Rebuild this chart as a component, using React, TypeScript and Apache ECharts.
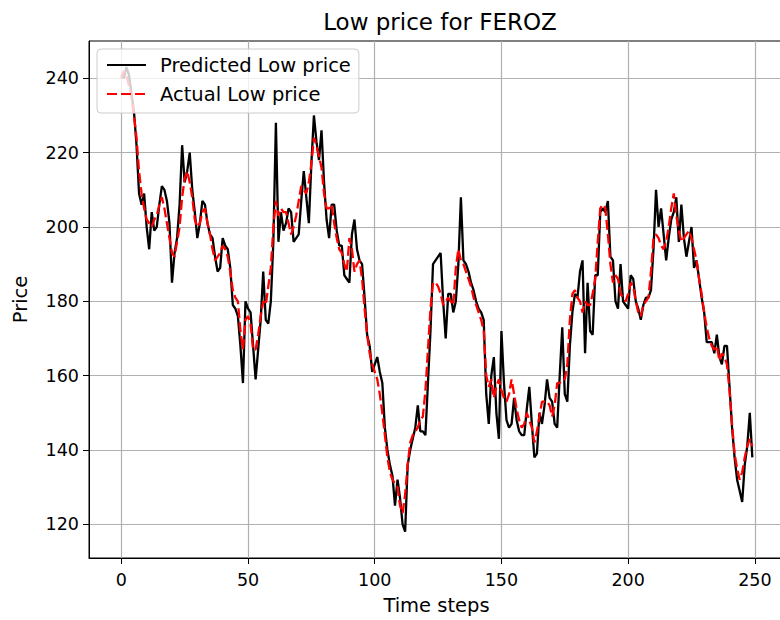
import React, { useEffect, useRef } from "react";
import * as echarts from "echarts";

const titleText = "Low price for FEROZ";
const xAxisName = "Time steps";
const yAxisName = "Price";
const seriesNames = ["Predicted Low price", "Actual Low price"];
const xTicks = [0, 50, 100, 150, 200, 250];
const yTicks = [120, 140, 160, 180, 200, 220, 240];

const predicted = [
  241, 240, 243, 241, 236, 231, 222, 209, 206, 209,
  200, 194, 204, 199, 200, 206, 211, 210, 207, 201,
  185, 193, 197, 206, 222, 212, 215, 220, 210, 204,
  197, 201, 207, 206, 201, 198, 197, 192, 188, 189,
  197, 195, 194, 189, 179, 178, 176, 168, 158, 180,
  178, 177, 168, 159, 167, 175, 188, 175, 174, 180,
  196, 228, 196, 204, 199, 201, 205, 204, 196, 197,
  198, 207, 215, 208, 201, 217, 230, 223, 218, 226,
  212, 202, 197, 206, 206, 199, 195, 195, 187, 186,
  185, 198, 202, 194, 191, 190, 181, 171, 168, 161,
  163, 165, 161, 158, 146, 140, 136, 133, 125, 132,
  127, 120, 118, 136, 140, 143, 146, 152, 145, 145,
  144, 158, 172, 190, 191, 192, 193, 180, 170, 182,
  182, 177, 180, 190, 208, 191, 190, 188, 185, 183,
  180, 178, 177, 175, 155, 147, 160, 165, 150, 143,
  172, 158, 148, 146, 147, 154, 148, 145, 144, 144,
  151, 157, 147, 138, 139, 150, 147, 152, 159, 154,
  153, 147, 146, 160, 173, 155, 153, 168, 177, 182,
  181, 188, 191, 166, 185, 172, 171, 187, 187, 204,
  205, 204, 207, 192, 191, 180, 178, 190, 180, 179,
  178, 187, 186, 180, 178, 175, 179, 181, 181, 183,
  194, 210, 200, 205, 198, 191, 197, 202, 204, 208,
  196, 206, 197, 192, 196, 200, 189, 191, 186, 181,
  177, 169, 169, 169, 166, 171, 165, 163, 168, 168,
  157, 146, 138, 132, 129, 126, 136, 141, 150, 138,
];

const actual = [
  240, 242, 241, 238, 235, 230, 224, 215, 209, 205,
  202, 201, 200, 202, 203, 206, 208, 205, 201, 197,
  193, 192, 196, 200, 208, 213, 215, 212, 208, 202,
  200, 201, 204, 205, 201, 198, 194, 191, 192, 193,
  195, 194, 192, 188, 183, 181, 180, 172, 167, 175,
  176, 174, 167, 167, 171, 176, 180, 179, 184, 189,
  200, 207, 203, 205, 204, 204, 201, 198, 200, 203,
  207, 211, 210, 209, 212, 217, 224, 222, 219, 216,
  209, 205, 205, 206, 201, 197, 194, 193, 190, 188,
  197, 194, 188, 190, 191, 186, 178, 171, 166, 163,
  161, 159, 155, 150, 144, 138, 134, 132, 131, 130,
  125, 123, 128, 136, 142, 144, 145, 146, 148, 149,
  156, 167, 178, 185, 185, 184, 182, 179, 180, 181,
  180, 179, 189, 194, 191, 190, 188, 186, 184, 181,
  179, 177, 175, 172, 160, 157, 159, 154, 157, 159,
  156, 154, 153, 155, 159, 155, 151, 148, 146, 147,
  150, 148, 146, 142, 145, 149, 153, 153, 153, 152,
  149, 152, 158, 158, 159, 159, 163, 175, 182, 183,
  181, 180, 177, 180, 179, 179, 182, 186, 196, 205,
  206, 205, 198, 190, 185, 187, 186, 182, 181, 180,
  182, 185, 184, 180, 177, 176, 179, 180, 181, 188,
  197, 198, 197, 195, 194, 196, 200, 205, 209, 203,
  199, 196, 197, 198, 199, 197, 194, 191, 186, 182,
  177, 173, 170, 168, 167, 168, 164, 166, 165, 163,
  156, 147, 139, 135, 132, 134, 138, 141, 143, 141,
];

const FONT = "DejaVu Sans";

export default function App() {
  const ref = useRef<HTMLDivElement>(null);
  useEffect(() => {
    if (!ref.current) return;
    const chart = echarts.init(ref.current, null, { renderer: "svg" });
    chart.setOption({
      animation: false,
      title: {
        text: titleText,
        left: 435,
        top: 5,
        textAlign: "center",
        textStyle: { fontFamily: FONT, fontSize: 23, fontWeight: "normal", color: "#000" },
      },
      legend: {
        orient: "vertical",
        left: 97,
        top: 49,
        padding: [6, 8, 9, 9],
        itemGap: 9,
        itemWidth: 39,
        itemHeight: 20,
        backgroundColor: "rgba(255,255,255,0.8)",
        borderColor: "#cccccc",
        borderWidth: 1,
        borderRadius: 4,
        itemStyle: { opacity: 0 },
        textStyle: { fontFamily: FONT, fontSize: 19.5, color: "#000", padding: [0, 0, 0, 9] },
        data: seriesNames,
      },
      grid: {
        left: 89,
        right: 16,
        top: 41,
        bottom: 62,
        show: true,
        borderColor: "#000",
        borderWidth: 1,
        backgroundColor: "transparent",
      },
      xAxis: {
        type: "value",
        min: -12.75,
        max: 261.5,
        name: xAxisName,
        nameLocation: "middle",
        nameGap: 37,
        nameTextStyle: { fontFamily: FONT, fontSize: 19.5, color: "#000" },
        axisLine: { show: true, onZero: false, lineStyle: { color: "#000", width: 1 } },
        axisTick: { show: true, length: 6, customValues: xTicks, lineStyle: { color: "#000", width: 1 } },
        axisLabel: { customValues: xTicks, margin: 13, fontFamily: FONT, fontSize: 17.5, color: "#000" },
        splitLine: { show: true, lineStyle: { color: "#b0b0b0", width: 1.2 } },
      },
      yAxis: {
        type: "value",
        min: 110.93,
        max: 250.03,
        name: yAxisName,
        nameLocation: "middle",
        nameGap: 59,
        nameTextStyle: { fontFamily: FONT, fontSize: 19.5, color: "#000" },
        axisLine: { show: true, onZero: false, lineStyle: { color: "#000", width: 1 } },
        axisTick: { show: true, length: 6, customValues: yTicks, lineStyle: { color: "#000", width: 1 } },
        axisLabel: { customValues: yTicks, margin: 10, fontFamily: FONT, fontSize: 17.5, color: "#000" },
        splitLine: { show: true, lineStyle: { color: "#b0b0b0", width: 1.2 } },
      },
      series: [
        {
          name: seriesNames[0],
          type: "line",
          showSymbol: false,
          symbol: "none",
          data: predicted.map((v, i) => [i, v]),
          lineStyle: { color: "#000", width: 2.3 },
          itemStyle: { color: "#000" },
        },
        {
          name: seriesNames[1],
          type: "line",
          showSymbol: false,
          symbol: "none",
          data: actual.map((v, i) => [i, v]),
          lineStyle: { color: "#ff0000", width: 2.3, type: [10, 4] },
          itemStyle: { color: "#ff0000" },
        },
      ],
    });
    return () => chart.dispose();
  }, []);
  return (
    <div style={{ position: "absolute", left: 0, top: 0, width: 780, height: 620, overflow: "hidden", background: "#fff" }}>
      <div ref={ref} style={{ width: 800, height: 620 }} />
    </div>
  );
}
